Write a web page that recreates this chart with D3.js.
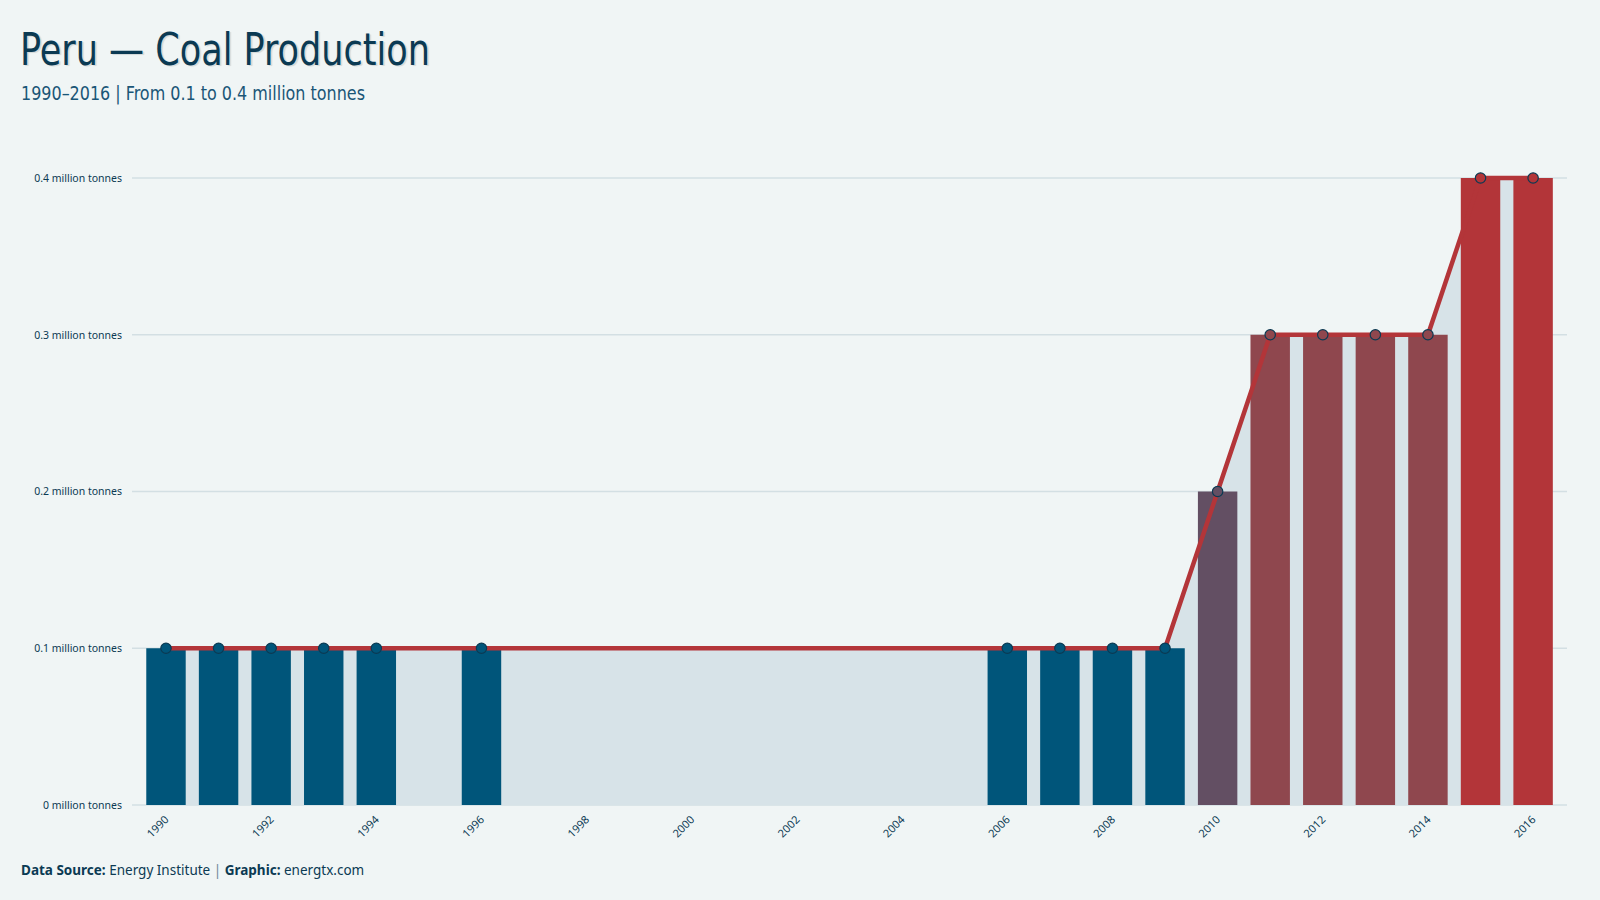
<!DOCTYPE html>
<html>
<head>
<meta charset="utf-8">
<script src="https://cdn.jsdelivr.net/npm/d3@7.9.0/dist/d3.min.js"></script>
<style>
  html, body { margin: 0; padding: 0; background: #f0f5f5; }
  svg { display: block; }
</style>
</head>
<body>
<svg id="chart" width="1600" height="900"></svg>
<script>
const years  = [1990, 1991, 1992, 1993, 1994, 1996, 2006, 2007, 2008, 2009, 2010, 2011, 2012, 2013, 2014, 2015, 2016];
const values = [0.1, 0.1, 0.1, 0.1, 0.1, 0.1, 0.1, 0.1, 0.1, 0.1, 0.2, 0.3, 0.3, 0.3, 0.3, 0.4, 0.4];
const yTicks = [0, 0.1, 0.2, 0.3, 0.4];
const xTickYears = [1990, 1992, 1994, 1996, 1998, 2000, 2002, 2004, 2006, 2008, 2010, 2012, 2014, 2016];
const colorStops = [0.1, 0.2, 0.3, 0.4];
const colorRange = ["#00557a", "#634f63", "#8f474e", "#b33539"];

const data = years.map((y, i) => ({ year: y, value: values[i] }));

const svg = d3.select("#chart");
const ink = "#0b3a53";

const xScale = d3.scaleBand()
  .domain(d3.range(years[0], years[years.length - 1] + 1))
  .range([139.7, 1559.4])
  .paddingInner(0.25)
  .paddingOuter(0.125);

const yScale = d3.scaleLinear()
  .domain([0, 0.4])
  .range([805, 178]);

const color = d3.scaleLinear().domain(colorStops).range(colorRange);
const cx = d => xScale(d.year) + xScale.bandwidth() / 2;

// gridlines
const grid = svg.append("g");
grid.selectAll("line")
  .data(yTicks)
  .enter()
  .append("line")
  .attr("x1", 132).attr("x2", 1567)
  .attr("y1", d => yScale(d)).attr("y2", d => yScale(d))
  .attr("stroke", "#d3dfe3")
  .attr("stroke-width", 1.5);

// y axis labels
const yAxis = svg.append("g")
  .attr("transform", "translate(132,0)")
  .call(d3.axisLeft(yScale).tickValues(yTicks).tickSize(0).tickPadding(10)
    .tickFormat(d => `${d} million tonnes`));
yAxis.select(".domain").remove();
yAxis.selectAll("text")
  .style("font-family", "'Noto Sans', sans-serif")
  .style("font-size", "10.5px")
  .attr("fill", ink);

// area under the line
const area = d3.area()
  .x(cx)
  .y0(yScale(0))
  .y1(d => yScale(d.value));
svg.append("path")
  .datum(data)
  .attr("fill", "#d7e3e8")
  .attr("d", area);

// bars
svg.append("g").selectAll("rect")
  .data(data)
  .enter()
  .append("rect")
  .attr("x", d => xScale(d.year))
  .attr("width", xScale.bandwidth())
  .attr("y", d => yScale(d.value))
  .attr("height", d => yScale(0) - yScale(d.value))
  .attr("fill", d => color(d.value));

// line
const line = d3.line().x(cx).y(d => yScale(d.value));
svg.append("path")
  .datum(data)
  .attr("fill", "none")
  .attr("stroke", "#b33539")
  .attr("stroke-width", 4.5)
  .attr("stroke-linejoin", "round")
  .attr("d", line);

// points
svg.append("g").selectAll("circle")
  .data(data)
  .enter()
  .append("circle")
  .attr("cx", cx)
  .attr("cy", d => yScale(d.value))
  .attr("r", 5.2)
  .attr("fill", d => color(d.value))
  .attr("stroke", ink)
  .attr("stroke-width", 1.2);

// x axis labels
const xAxis = svg.append("g")
  .attr("transform", `translate(0,${yScale(0)})`)
  .call(d3.axisBottom(xScale).tickValues(xTickYears).tickSize(0).tickPadding(8));
xAxis.select(".domain").remove();
xAxis.selectAll("text")
  .style("font-family", "'Noto Sans', sans-serif")
  .style("font-size", "11px")
  .attr("fill", ink)
  .attr("text-anchor", "end")
  .attr("dy", "0.35em")
  .attr("transform", "translate(-5,7) rotate(-45)");

// titles
svg.append("text")
  .attr("x", 20)
  .attr("y", 65)
  .attr("fill", ink)
  .attr("textLength", 410)
  .attr("lengthAdjust", "spacingAndGlyphs")
  .style("font-family", "'DejaVu Sans Condensed', sans-serif")
  .style("font-size", "44px")
  .style("text-shadow", "2px 1px 1px rgba(0,0,0,0.12)")
  .text("Peru — Coal Production");

svg.append("text")
  .attr("x", 21)
  .attr("y", 100)
  .attr("fill", "#1a5677")
  .attr("textLength", 344)
  .attr("lengthAdjust", "spacingAndGlyphs")
  .style("font-family", "'DejaVu Sans Condensed', sans-serif")
  .style("font-size", "20px")
  .text("1990–2016 | From 0.1 to 0.4 million tonnes");

// footer
const foot = svg.append("text")
  .attr("x", 21)
  .attr("y", 875)
  .attr("fill", ink)
  .style("font-family", "'Noto Sans', sans-serif")
  .style("font-size", "13.5px");
foot.append("tspan").attr("font-weight", "bold").text("Data Source:");
foot.append("tspan").text(" Energy Institute ");
foot.append("tspan").attr("fill", "#6f8a99").text("|");
foot.append("tspan").attr("font-weight", "bold").text(" Graphic:");
foot.append("tspan").text(" energtx.com");
</script>
</body>
</html>
